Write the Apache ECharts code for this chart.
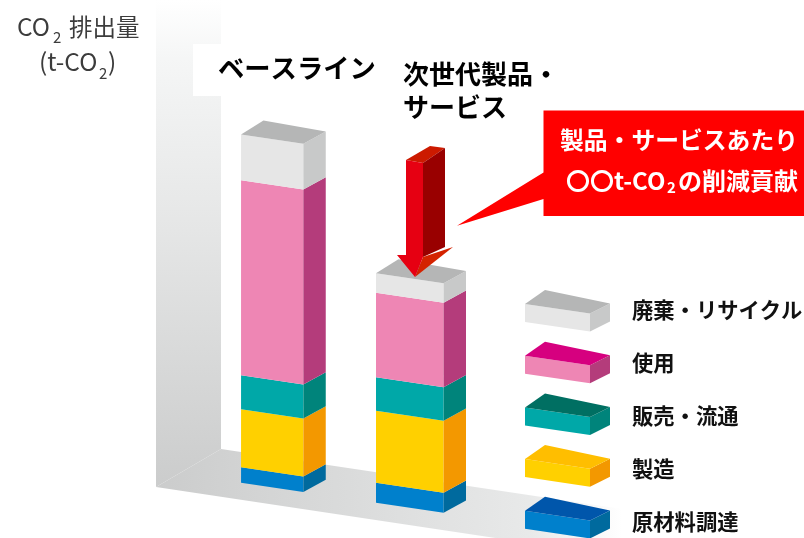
<!DOCTYPE html>
<html><head><meta charset="utf-8">
<style>html,body{margin:0;padding:0;background:#fff}#c{width:804px;height:538px}</style>
<script src="https://cdn.jsdelivr.net/npm/echarts@6/dist/echarts.min.js"></script>
</head><body><div id="c"></div>
<script>
const categories = ['ベースライン', '次世代製品・サービス'];
const rawMaterial = [15.4, 20];
const manufacturing = [58, 72];
const distribution = [34, 33.4];
const usePhase = [195, 84.6];
const disposal = [45.7, 19.4];
const stageNames = ['原材料調達', '製造', '販売・流通', '使用', '廃棄・リサイクル'];
const stageValues = [rawMaterial, manufacturing, distribution, usePhase, disposal];
const legendOrder = ['廃棄・リサイクル', '使用', '販売・流通', '製造', '原材料調達'];
const faces = {
  '原材料調達': {top:'#0056ab', front:'#0080cc', side:'#006a9e'},
  '製造': {top:'#ffbe00', front:'#ffd000', side:'#f39800'},
  '販売・流通': {top:'#006f62', front:'#00a8a8', side:'#00847b'},
  '使用': {top:'#d6007f', front:'#ee86b4', side:'#b43c7b'},
  '廃棄・リサイクル': {top:'#b5b6b6', front:'#e6e6e6', side:'#c8c9c9'}
};
const FONT = '"Noto Sans CJK JP"';
const frontWidths = [62.3, 67.6], SHEAR = 0.148, DX = 22.4, DY = -12.3, X0 = 241;

function poly(points, fill, z) {
  const el = {type:'polygon', shape:{points}, style:{fill}, silent:true};
  if (z !== undefined) el.z = z;
  return el;
}
function boxFaces(x, yBottom, yTop, w, c, withTop, dx, sideDy, apexDy, z) {
  const dy = w * SHEAR;
  const kids = [
    poly([[x,yTop],[x+w,yTop+dy],[x+w,yBottom+dy],[x,yBottom]], c.front, z),
    poly([[x+w,yTop+dy],[x+w+dx,yTop+dy+sideDy],[x+w+dx,yBottom+dy+sideDy],[x+w,yBottom+dy]], c.side, z)
  ];
  if (withTop) kids.push(poly([[x,yTop],[x+dx,yTop+apexDy],[x+w+dx,yTop+dy+sideDy],[x+w,yTop+dy]], c.top, z));
  return kids;
}
const series = stageNames.map((name, s) => {
  const data = categories.map((cat, i) => {
    let start = 0;
    for (let k = 0; k < s; k++) start += stageValues[k][i];
    return [i, start, start + stageValues[s][i]];
  });
  return {
    name, type:'custom', coordinateSystem:'cartesian2d', clip:false, data,
    encode:{x:0, y:[1,2]}, z:5,
    renderItem(params, api) {
      const i = api.value(0), w = frontWidths[i];
      const total = frontWidths[i] + DX;
      const cx = api.coord([i, 0])[0];
      const x = cx - total / 2;
      const off = (x - X0) * SHEAR;
      const yB = api.coord([i, api.value(1)])[1] + off;
      const yT = api.coord([i, api.value(2)])[1] + off;
      return {type:'group', children: boxFaces(x, yB, yT, w, faces[name], s === stageNames.length - 1, DX, DY, DY - 1.8)};
    }
  };
});

const graphics = [];
graphics.push({type:'polygon', z:1, silent:true,
  shape:{points:[[156,0],[221,0],[221,449],[156,487]]},
  style:{fill:{type:'linear',x:0,y:0,x2:0,y2:1,colorStops:[
    {offset:0,color:'#ffffff'},{offset:0.12,color:'#f5f6f6'},{offset:0.45,color:'#e6e7e7'},{offset:1,color:'#cbcccc'}]}}});
graphics.push({type:'polygon', z:1, silent:true,
  shape:{points:[[156,487],[221,449],[622,509],[622,557]]},
  style:{fill:{type:'linear',x:0,y:0,x2:1,y2:0,colorStops:[
    {offset:0,color:'#cbcccc'},{offset:0.55,color:'#dfe0e0'},{offset:0.8,color:'#e8e9e9'},{offset:1,color:'#ffffff'}]}}});
graphics.push({type:'rect', z:2, silent:true, shape:{x:193,y:44,width:190,height:52}, style:{fill:'#fff'}});
legendOrder.forEach((name, i) => {
  boxFaces(525, 322 + i * 51.7, 304 + i * 51.7, 65, faces[name], true, 20, -10, -14, 6).forEach(el => graphics.push(el));
});
[
  poly([[406,160],[423,163],[445,148],[430,146]], '#cc1a00', 20),
  poly([[423,163],[445,148],[445,247],[423,257]], '#990000', 20),
  poly([[423,257],[453,247],[415,277]], '#d42200', 20),
  poly([[406,160],[423,163],[423,257],[415,277],[397,255],[406,255]], '#e60012', 20)
].forEach(el => graphics.push(el));
graphics.push({type:'polygon', z:20, silent:true,
  shape:{points:[[543.5,110.5],[804,110.5],[804,216],[543.5,216],[543.5,199],[457,225.7],[543.5,172.6]]},
  style:{fill:'#ff0000'}});
function text(x, y, t, size, fill, weight, align) {
  graphics.push({type:'text', z:30, x, y, silent:true, style:{
    text:t, fill, fontFamily:FONT, fontSize:size, fontWeight:weight,
    align:align||'left', verticalAlign:'middle'}});
}
text(218, 68, categories[0], 26.3, '#000', 700);
text(403, 74, '次世代製品・', 26, '#000', 700);
text(403, 107, 'サービス', 26, '#000', 700);
text(679, 140, '製品・サービスあたり', 23.8, '#fff', 700, 'center');
text(566, 181, '〇〇t-CO', 24, '#fff', 700);
text(667, 187, '2', 15, '#fff', 700);
text(678, 181, 'の削減貢献', 24, '#fff', 700);
text(17, 27, 'CO', 24.5, '#3c3c3c', 400);
text(53, 37, '2', 15, '#3c3c3c', 400);
text(69, 27, '排出量', 23.5, '#3c3c3c', 400);
text(39, 62, '(t-CO', 24.5, '#3c3c3c', 400);
text(99, 73, '2', 15, '#3c3c3c', 400);
text(108, 62, ')', 24.5, '#3c3c3c', 400);

const chart = echarts.init(document.getElementById('c'), null, {renderer:'canvas'});
chart.setOption({
  animation:false,
  backgroundColor:'#fff',
  grid:{left:214.6, width:275.2, top:82.7, height:400, containLabel:false},
  xAxis:{type:'category', data:categories, show:false},
  yAxis:{type:'value', min:0, max:400, show:false},
  legend:{data:legendOrder, orient:'vertical', left:627, top:299.5, padding:0, itemGap:31.7, itemWidth:0, itemHeight:0, icon:'rect', z:30,
    selectedMode:false, textStyle:{fontFamily:FONT, fontSize:21.3, fontWeight:700, color:'#111', lineHeight:20}},
  tooltip:{show:false},
  series,
  graphic:graphics
});
</script></body></html>
